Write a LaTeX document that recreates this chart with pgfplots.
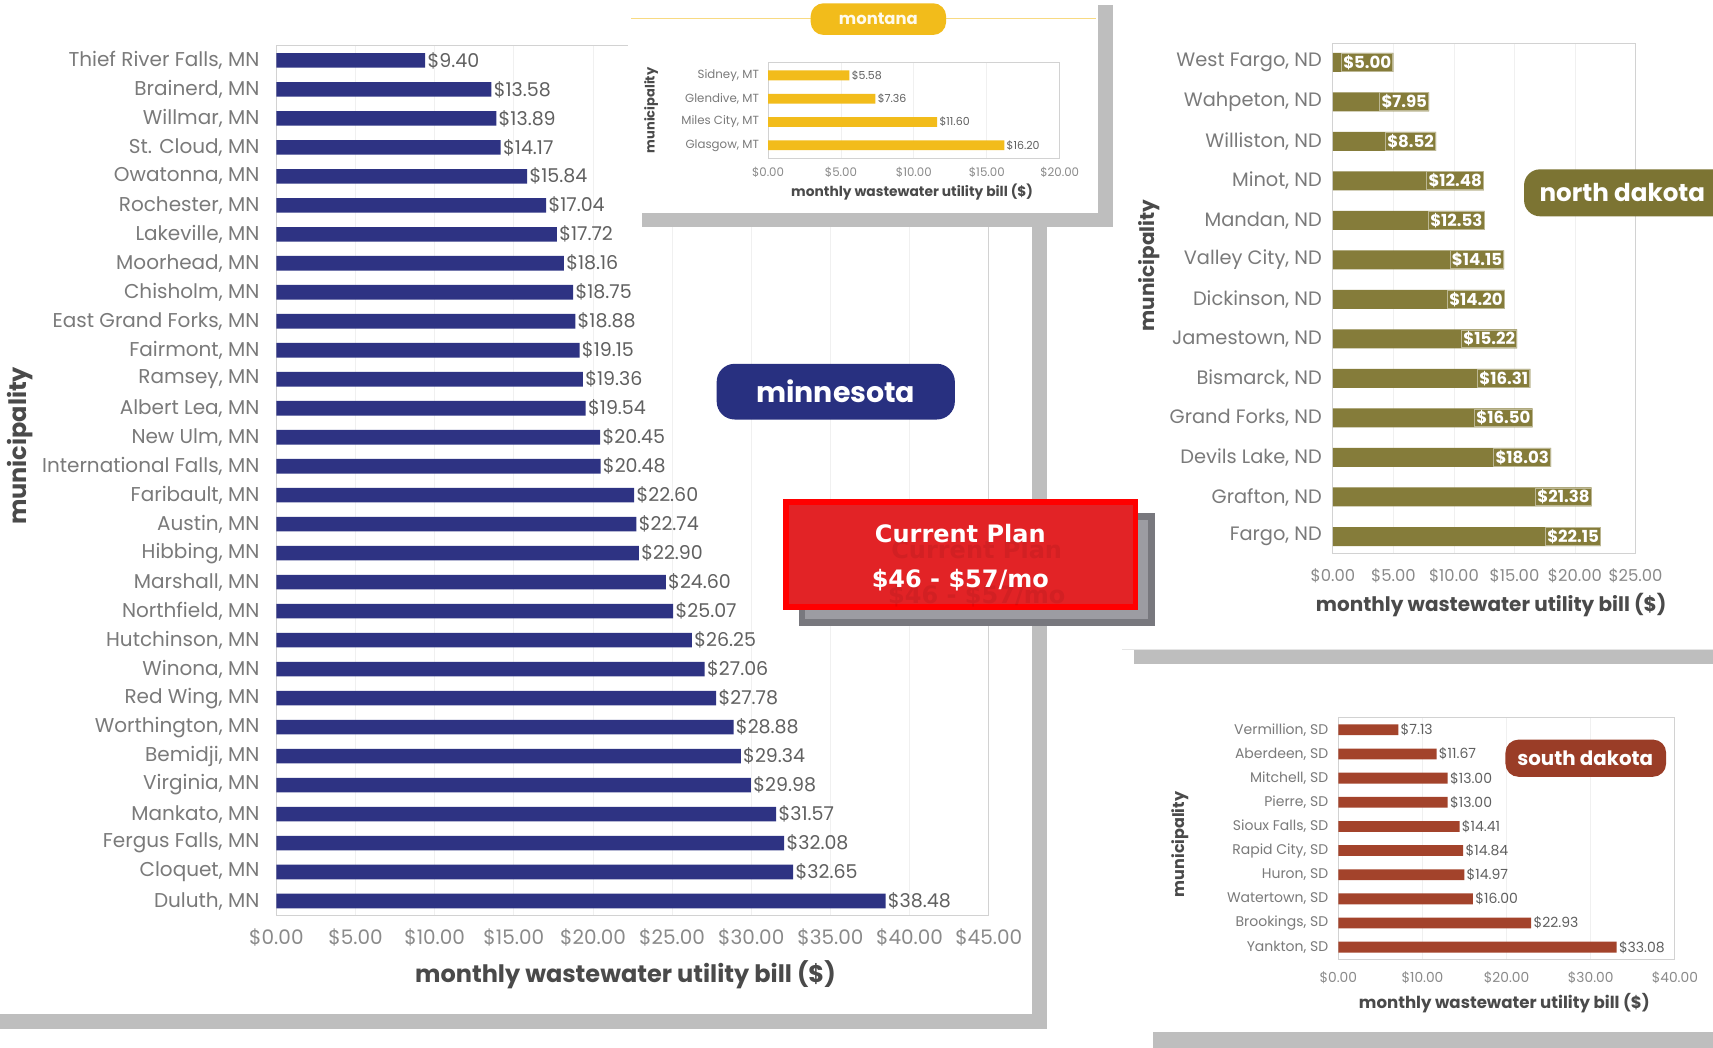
\documentclass[border=0pt]{standalone}
\usepackage{fontspec}
\setmainfont{Poppins}
\newfontfamily\planfont{DejaVu Sans}
\usepackage{pgfplots}
\pgfplotsset{compat=1.18}

\definecolor{mnblue}{HTML}{2E3383}
\definecolor{mnbadge}{HTML}{283080}
\definecolor{mtgold}{HTML}{F2BC1B}
\definecolor{ndolive}{HTML}{857C3A}
\definecolor{ndbadge}{HTML}{7C7433}
\definecolor{sdbrown}{HTML}{A3432B}
\definecolor{sdbadge}{HTML}{9A3D27}
\definecolor{catgray}{HTML}{7A7A7A}
\definecolor{tickgray}{HTML}{8A8A8A}
\definecolor{titlegray}{HTML}{4A4A4A}
\definecolor{valgray}{HTML}{606060}
\definecolor{shadowgray}{HTML}{BEBEBE}
\definecolor{planred}{HTML}{E12529}
\definecolor{planedge}{HTML}{FF0000}
\definecolor{plandark}{HTML}{78787E}
\definecolor{planmid}{HTML}{9C9CA2}

\newcommand{\fs}[1]{\fontsize{#1}{#1}\selectfont}

\pgfplotsset{
  statebars/.style={
    scale only axis, anchor=south west,
    y dir=reverse, xmin=0, clip=false,
    axis line style={draw=gray!35, line width=0.4pt},
    major tick length=0pt,
    xmajorgrids, grid style={draw=gray!12, line width=0.4pt},
    yticklabel style={text=catgray},
    xticklabel style={text=tickgray},
    xlabel style={anchor=center, text=titlegray},
    ylabel style={anchor=center, text=titlegray},
    /pgf/number format/assume math mode=true,
  },
  dollarlabels/.style={
    point meta=x,
    nodes near coords={\$\pgfmathprintnumber[fixed,fixed zerofill,precision=2]{\pgfplotspointmeta}},
  },
}

\begin{document}
\begin{tikzpicture}
\clip (0pt,0pt) rectangle (856.5pt,524pt);
\fill[white] (0pt,0pt) rectangle (856.5pt,524pt);

% minnesota panel shadow
\begin{scope}[shift={(0pt,524pt)}, x=0.54625pt, y=-0.54625pt]
  \fill[shadowgray] (945,205) rectangle (958,942);
  \fill[shadowgray] (0,928) rectangle (958,942);
\end{scope}

% ---------------- Minnesota ----------------
\begin{axis}[statebars,
  at={(138.20pt,66.24pt)}, width=356.16pt, height=434.82pt,
  xmax=45, xtick={0,5,...,45},
  xticklabels={\$0.00,\$5.00,\$10.00,\$15.00,\$20.00,\$25.00,\$30.00,\$35.00,\$40.00,\$45.00},
  ymin=-0.5, ymax=29.5, ytick={0,...,29},
  yticklabels={{Thief River Falls, MN},{Brainerd, MN},{Willmar, MN},{St. Cloud, MN},{Owatonna, MN},{Rochester, MN},{Lakeville, MN},{Moorhead, MN},{Chisholm, MN},{East Grand Forks, MN},{Fairmont, MN},{Ramsey, MN},{Albert Lea, MN},{New Ulm, MN},{International Falls, MN},{Faribault, MN},{Austin, MN},{Hibbing, MN},{Marshall, MN},{Northfield, MN},{Hutchinson, MN},{Winona, MN},{Red Wing, MN},{Worthington, MN},{Bemidji, MN},{Virginia, MN},{Mankato, MN},{Fergus Falls, MN},{Cloquet, MN},{Duluth, MN}},
  yticklabel style={font=\fs{10}, xshift=-5pt},
  xticklabel style={font=\fs{10}, yshift=-3pt},
  xlabel={monthly wastewater utility bill (\$)},
  xlabel style={at={(axis description cs:0.49,-0.0678)}, font=\bfseries\fs{12}},
  ylabel={municipality},
  ylabel style={at={(axis description cs:-0.3604,0.54)}, font=\bfseries\fs{12}},
]
\addplot[xbar, bar width=7.3pt, fill=mnblue, draw=none, dollarlabels,
  nodes near coords style={anchor=west, inner sep=1pt, text=valgray, font=\fs{9.5}}]
  coordinates {(9.40,0) (13.58,1) (13.89,2) (14.17,3) (15.84,4) (17.04,5) (17.72,6) (18.16,7) (18.75,8) (18.88,9) (19.15,10) (19.36,11) (19.54,12) (20.45,13) (20.48,14) (22.60,15) (22.74,16) (22.90,17) (24.60,18) (25.07,19) (26.25,20) (27.06,21) (27.78,22) (28.88,23) (29.34,24) (29.98,25) (31.57,26) (32.08,27) (32.65,28) (38.48,29)};
\end{axis}

% montana panel
\begin{scope}[shift={(0pt,524pt)}, x=0.54625pt, y=-0.54625pt]
  \fill[shadowgray] (1005,5) rectangle (1019,208);
  \fill[shadowgray] (588,195) rectangle (1019,208);
  \fill[white] (575,-5) rectangle (1005,195);
  \draw[mtgold!55, line width=0.8pt] (578,17) -- (1003,17);
  \fill[mtgold, rounded corners=6.5pt] (742,3) rectangle (866,32);
  \node[text=white!92!mtgold, font=\bfseries\fs{8.2}] at (804,17.5) {montana};
\end{scope}

% ---------------- Montana ----------------
\begin{axis}[statebars,
  at={(384.01pt,444.79pt)}, width=145.85pt, height=48.07pt,
  xmax=20, xtick={0,5,...,20},
  xticklabels={\$0.00,\$5.00,\$10.00,\$15.00,\$20.00},
  ymin=-0.563, ymax=3.563, ytick={0,...,3},
  yticklabels={{Sidney, MT},{Glendive, MT},{Miles City, MT},{Glasgow, MT}},
  yticklabel style={font=\fs{5.9}, xshift=-1pt},
  xticklabel style={font=\fs{5.9}, yshift=-1pt},
  xlabel={monthly wastewater utility bill (\$)},
  xlabel style={at={(axis description cs:0.494,-0.352)}, font=\bfseries\fs{6.9}},
  ylabel={municipality},
  ylabel style={at={(axis description cs:-0.4007,0.5)}, font=\bfseries\fs{6.5}},
]
\addplot[xbar, bar width=4.9pt, fill=mtgold, draw=none, dollarlabels,
  nodes near coords style={anchor=west, inner sep=1pt, text=valgray, font=\fs{5.5}}]
  coordinates {(5.58,0) (7.36,1) (11.60,2) (16.20,3)};
\end{axis}

% north dakota panel
\begin{scope}[shift={(0pt,524pt)}, x=0.54625pt, y=-0.54625pt]
  \fill[white] (1027,-5) rectangle (1580,594);
  \draw[gray!20, line width=0.4pt] (1027,594) -- (1580,594);
  \fill[shadowgray] (1038,595) rectangle (1580,608);
\end{scope}

% ---------------- North Dakota ----------------
\begin{axis}[statebars,
  at={(666.43pt,247.05pt)}, width=151.31pt, height=255.10pt,
  xmax=25, xtick={0,5,...,25},
  xticklabels={\$0.00,\$5.00,\$10.00,\$15.00,\$20.00,\$25.00},
  ymin=-0.47, ymax=12.44, ytick={0,...,12},
  yticklabels={{West Fargo, ND},{Wahpeton, ND},{Williston, ND},{Minot, ND},{Mandan, ND},{Valley City, ND},{Dickinson, ND},{Jamestown, ND},{Bismarck, ND},{Grand Forks, ND},{Devils Lake, ND},{Grafton, ND},{Fargo, ND}},
  yticklabel style={font=\fs{9.7}, xshift=-2pt},
  xticklabel style={font=\fs{8.2}, yshift=-4pt},
  xlabel={monthly wastewater utility bill (\$)},
  xlabel style={at={(axis description cs:0.523,-0.1006)}, font=\bfseries\fs{10}},
  ylabel={municipality},
  ylabel style={at={(axis description cs:-0.6065,0.565)}, font=\bfseries\fs{10}},
]
\addplot[xbar, bar width=9.5pt, fill=ndolive, draw=none, dollarlabels,
  nodes near coords style={anchor=east, inner sep=0.8pt, text=white, fill=ndolive,
    draw=white!45!ndolive, line width=0.5pt, font=\bfseries\fs{8.3}}]
  coordinates {(5.00,0) (7.95,1) (8.52,2) (12.48,3) (12.53,4) (14.15,5) (14.20,6) (15.22,7) (16.31,8) (16.50,9) (18.03,10) (21.38,11) (22.15,12)};
\end{axis}

% south dakota panel
\begin{scope}[shift={(0pt,524pt)}, x=0.54625pt, y=-0.54625pt]
  \fill[white] (1040,612) rectangle (1580,945);
  \fill[shadowgray] (1055,945) rectangle (1580,965);
\end{scope}

% ---------------- South Dakota ----------------
\begin{axis}[statebars,
  at={(669.16pt,44.39pt)}, width=168.25pt, height=120.72pt,
  xmax=40, xtick={0,10,...,40},
  xticklabels={\$0.00,\$10.00,\$20.00,\$30.00,\$40.00},
  ymin=-0.5, ymax=9.5, ytick={0,...,9},
  yticklabels={{Vermillion, SD},{Aberdeen, SD},{Mitchell, SD},{Pierre, SD},{Sioux Falls, SD},{Rapid City, SD},{Huron, SD},{Watertown, SD},{Brookings, SD},{Yankton, SD}},
  yticklabel style={font=\fs{7}, xshift=-1.5pt},
  xticklabel style={font=\fs{6.9}, yshift=-2.5pt},
  xlabel={monthly wastewater utility bill (\$)},
  xlabel style={at={(axis description cs:0.4935,-0.181)}, font=\bfseries\fs{8.3}},
  ylabel={municipality},
  ylabel style={at={(axis description cs:-0.4708,0.475)}, font=\bfseries\fs{8}},
]
\addplot[xbar, bar width=5.4pt, fill=sdbrown, draw=none, dollarlabels,
  nodes near coords style={anchor=west, inner sep=1pt, text=valgray, font=\fs{7}}]
  coordinates {(7.13,0) (11.67,1) (13.00,2) (13.00,3) (14.41,4) (14.84,5) (14.97,6) (16.00,7) (22.93,8) (33.08,9)};
\end{axis}

% state badges and the current plan callout
\begin{scope}[shift={(0pt,524pt)}, x=0.54625pt, y=-0.54625pt]
  \fill[mnbadge, rounded corners=9pt] (656,333) rectangle (874,384);
  \node[text=white, font=\bfseries\fs{14.2}] at (765,358) {minnesota};
  \fill[ndbadge, rounded corners=8pt] (1395,155) rectangle (1600,198);
  \node[text=white, font=\bfseries\fs{12.3}] at (1485,176) {north dakota};
  \fill[sdbadge, rounded corners=6.5pt] (1378,677) rectangle (1525,711);
  \node[text=white, font=\bfseries\fs{9.9}] at (1451,694) {south dakota};

  \fill[plandark] (731,470) rectangle (1057,573);
  \fill[planmid] (737,476) rectangle (1051,567);
  \fill[planedge] (717,457) rectangle (1042,558);
  \fill[planred, fill opacity=0.95] (722,462) rectangle (1037,553);
  \node[text=black, opacity=0.07, font=\planfont\bfseries\fs{12}] at (894,503) {Current Plan};
  \node[text=black, opacity=0.07, font=\planfont\bfseries\fs{12}] at (894,546) {\$46 - \$57/mo};
  \node[text=white, font=\planfont\bfseries\fs{12}] at (879,488) {Current Plan};
  \node[text=white, font=\planfont\bfseries\fs{12}] at (879,531) {\$46 - \$57/mo};
\end{scope}
\end{tikzpicture}
\end{document}
